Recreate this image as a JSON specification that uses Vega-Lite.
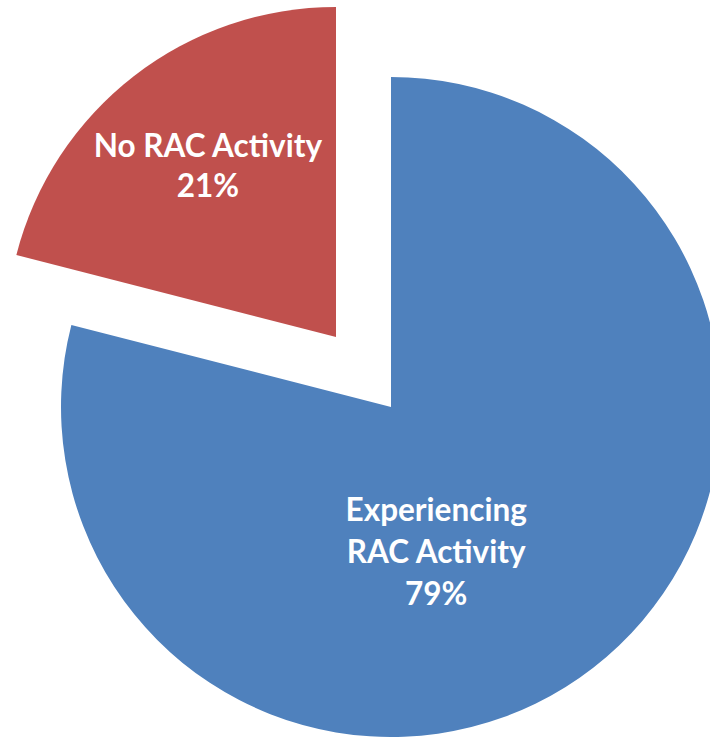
{
  "$schema": "https://vega.github.io/schema/vega-lite/v6.json",
  "width": 710,
  "height": 737,
  "autosize": {"type": "fit", "contains": "padding"},
  "padding": 0,
  "background": "white",
  "view": {"stroke": null},
  "data": {"values": [
    {"category": "Experiencing RAC Activity", "value": 79, "label": "Experiencing\nRAC Activity\n79%"},
    {"category": "No RAC Activity", "value": 21, "label": "No RAC Activity\n21%"}
  ]},
  "encoding": {
    "theta": {"field": "value", "type": "quantitative", "stack": true},
    "order": {"field": "category", "sort": "ascending"},
    "color": {"field": "category", "type": "nominal", "scale": {"domain": ["Experiencing RAC Activity", "No RAC Activity"], "range": ["#4F81BD", "#C0504D"]}, "legend": null}
  },
  "layer": [
    {
      "mark": {"type": "arc", "outerRadius": 330, "xOffset": 47, "yOffset": 38.5},
      "encoding": {"opacity": {"condition": {"test": "datum.category === 'Experiencing RAC Activity'", "value": 1}, "value": 0}}
    },
    {
      "mark": {"type": "arc", "outerRadius": 330, "xOffset": -8, "yOffset": -31.5},
      "encoding": {"opacity": {"condition": {"test": "datum.category === 'No RAC Activity'", "value": 1}, "value": 0}}
    },
    {
      "mark": {"type": "text", "radius": 170, "xOffset": -12, "yOffset": 9.5, "font": "Lato", "fontWeight": "bold", "fontSize": 31.5, "lineBreak": "\n", "lineHeight": 42, "align": "center", "baseline": "middle"},
      "encoding": {
        "color": {"value": "white"},
        "detail": {"field": "category"},
        "text": {"condition": {"test": "datum.category !== 'Experiencing RAC Activity'", "value": ""}, "field": "label"}
      }
    },
    {
      "mark": {"type": "text", "radius": 214, "xOffset": -5, "yOffset": -51, "font": "Lato", "fontWeight": "bold", "fontSize": 31.5, "lineBreak": "\n", "lineHeight": 40, "align": "center", "baseline": "middle"},
      "encoding": {
        "color": {"value": "white"},
        "detail": {"field": "category"},
        "text": {"condition": {"test": "datum.category !== 'No RAC Activity'", "value": ""}, "field": "label"}
      }
    }
  ]
}
